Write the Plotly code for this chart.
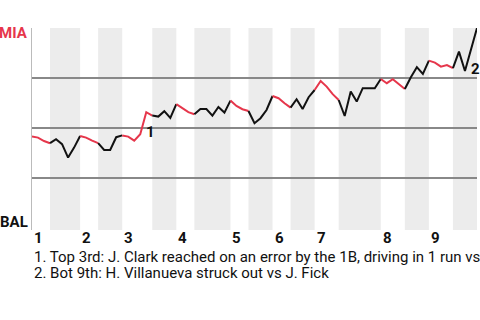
import plotly.graph_objects as go
import numpy as np

# Plate appearances per half-inning (top 1st, bot 1st, ..., bot 9th)
half_inning_pa = [3, 5, 3, 4, 5, 4, 3, 6, 3, 4, 3, 4, 4, 7, 4, 4, 4, 4]

# Win probability for MIA (1 = MIA, 0 = BAL) after each plate appearance
win_prob = [0.457, 0.452, 0.435, 0.424,
            0.444, 0.419, 0.352, 0.402, 0.460,
            0.452, 0.437, 0.424,
            0.390, 0.390, 0.454, 0.463,
            0.457, 0.437, 0.469, 0.579, 0.562,
            0.557, 0.584, 0.550, 0.619,
            0.599, 0.579, 0.569,
            0.595, 0.595, 0.562, 0.605, 0.577, 0.637,
            0.610, 0.594, 0.585,
            0.524, 0.549, 0.590, 0.660,
            0.649, 0.624, 0.602,
            0.644, 0.595, 0.654, 0.690,
            0.735, 0.707, 0.669, 0.640,
            0.560, 0.682, 0.632, 0.699, 0.699, 0.699, 0.745,
            0.724, 0.744, 0.720, 0.695,
            0.754, 0.804, 0.770, 0.837,
            0.827, 0.807, 0.815, 0.799,
            0.882, 0.785, 0.890, 1.000]

inning_labels = ["1", "2", "3", "4", "5", "6", "7", "8", "9"]
notes = ["1. Top 3rd: J. Clark reached on an error by the 1B, driving in 1 run vs",
         "2. Bot 9th: H. Villanueva struck out vs J. Fick"]
note_idx = [18, 72]
teams = ["MIA", "BAL"]

RED = "#e6364b"
BLACK = "#111111"
BAND = "#ececec"

bounds = np.concatenate([[0], np.cumsum(half_inning_pa)])
x_all = np.arange(len(win_prob))

fig = go.Figure()
shapes = []
for h in range(len(half_inning_pa)):
    a, b = int(bounds[h]), int(bounds[h + 1])
    color = RED if h % 2 == 0 else BLACK
    fig.add_trace(go.Scatter(x=x_all[a:b + 1], y=win_prob[a:b + 1], mode="lines",
                             line=dict(color=color, width=2), hoverinfo="skip",
                             showlegend=False))
    if h % 2 == 1:
        shapes.append(dict(type="rect", xref="x", yref="y", x0=a, x1=b, y0=-0.01, y1=1.0,
                           fillcolor=BAND, line=dict(width=0), layer="below"))

annotations = []
for i, lab in enumerate(inning_labels):
    annotations.append(dict(x=int(bounds[2 * i]), y=0, xref="x", yref="paper",
                            text="<b>%s</b>" % lab, showarrow=False, xanchor="left",
                            yanchor="top", yshift=3, font=dict(size=15, color="#111")))
annotations.append(dict(x=0, y=1, xref="paper", yref="y", text="<b>%s</b>" % teams[0],
                        showarrow=False, xanchor="right", yanchor="top", xshift=-2, yshift=6,
                        font=dict(size=15, color=RED)))
annotations.append(dict(x=0, y=0, xref="paper", yref="y", text="<b>%s</b>" % teams[1],
                        showarrow=False, xanchor="right", yanchor="bottom", xshift=-2, yshift=-5,
                        font=dict(size=15, color="#111")))
for k, idx in enumerate(note_idx):
    annotations.append(dict(x=idx, y=win_prob[idx], xref="x", yref="y", text="<b>%d</b>" % (k + 1),
                            showarrow=False, xanchor="left", yanchor="middle", xshift=4, yshift=2,
                            font=dict(size=15, color="#111")))
for k, t in enumerate(notes):
    annotations.append(dict(x=0, y=0, xref="paper", yref="paper", text=t, showarrow=False,
                            xanchor="left", yanchor="top", xshift=0, yshift=-16 - 16 * k,
                            font=dict(size=15, color="#111")))

fig.update_layout(
    width=480, height=320,
    margin=dict(l=32, r=3, t=28, b=90),
    paper_bgcolor="white", plot_bgcolor="white",
    font=dict(family="Roboto", size=14, color="#111"),
    shapes=shapes, annotations=annotations,
    xaxis=dict(range=[0, len(win_prob) - 1], showgrid=False, zeroline=False,
               showticklabels=False, ticks="", fixedrange=True),
    yaxis=dict(range=[-0.01, 1.0], tickvals=[0.25, 0.5, 0.75, 1.0], showgrid=True,
               gridcolor="#888888", gridwidth=1.5, zeroline=False, showticklabels=False,
               ticks="", showline=True, linecolor="#bbbbbb", linewidth=1, fixedrange=True),
)

fig.write_html("out.html", config={"displayModeBar": False})
